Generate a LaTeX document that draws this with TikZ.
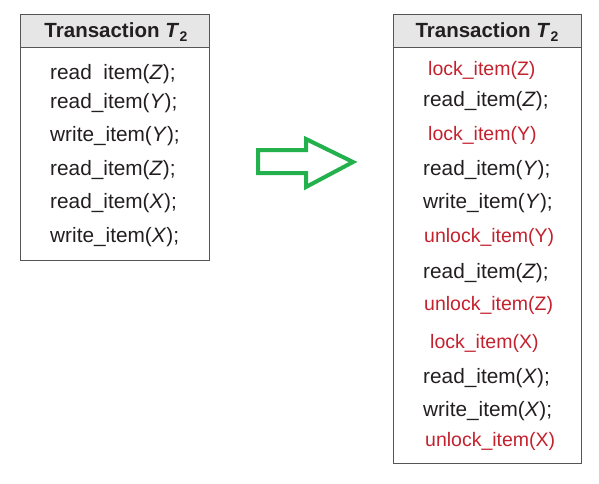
\documentclass[tikz,border=0pt]{standalone}
\usepackage{fontspec}
\setmainfont{Liberation Sans}
\definecolor{txt}{HTML}{231F20}
\definecolor{lockred}{HTML}{C4212E}
\definecolor{hdr}{HTML}{E6E6E6}
\definecolor{frame}{HTML}{555555}
\definecolor{arrowgreen}{HTML}{22B14C}
\newcommand{\tsub}{\textit{T}\kern0.5pt\raisebox{-4.5pt}{\fontsize{14}{16}\selectfont 2}}
\begin{document}
\begin{tikzpicture}[x=1pt,y=-1pt,
  box/.style={draw=frame,line width=1pt},
  head/.style={draw=frame,line width=1pt,fill=hdr},
  title/.style={anchor=base,inner sep=0pt,text=txt,font=\fontsize{20.5}{24}\selectfont\bfseries},
  op/.style={anchor=base west,inner sep=0pt,text=txt,font=\fontsize{20.8}{24}\selectfont},
  lk/.style={anchor=base west,inner sep=0pt,text=lockred,font=\fontsize{19.5}{23}\selectfont},
  bigarrow/.style={draw=arrowgreen,line width=4pt,line join=miter}]
\useasboundingbox (0,0) rectangle (599,483);
% left box
\fill[white] (20,14) rectangle (209,260);
\draw[head] (20,14) rectangle (209,47);
\draw[box] (20,14) rectangle (209,260);
\node[title] (lt) at (116,37) {Transaction \tsub};
\node[op] (l1) at (50,79) {read\phantom{\_}item(\textit{Z});};
\node[op] (l2) at (50,108) {read\_item(\textit{Y});};
\node[op] (l3) at (50,141) {write\_item(\textit{Y});};
\node[op] (l4) at (50,175) {read\_item(\textit{Z});};
\node[op] (l5) at (50,208) {read\_item(\textit{X});};
\node[op] (l6) at (50,242) {write\_item(\textit{X});};
% arrow
\draw[bigarrow] (258,150) -- (306,150) -- (306,139) -- (353,162) -- (306,187) -- (306,173) -- (258,173) -- cycle;
% right box
\draw[head] (393,14) rectangle (581,47);
\draw[box] (393,14) rectangle (581,463);
\node[title] (rt) at (487,37) {Transaction \tsub};
\node[lk] (r1) at (428,75) {lock\_item(Z)};
\node[op] (r2) at (423,106) {read\_item(\textit{Z});};
\node[lk] (r3) at (428,140) {lock\_item(Y)};
\node[op] (r4) at (423,175) {read\_item(\textit{Y});};
\node[op] (r5) at (423,208) {write\_item(\textit{Y});};
\node[lk] (r6) at (424,242) {unlock\_item(Y)};
\node[op] (r7) at (423,278) {read\_item(\textit{Z});};
\node[lk] (r8) at (424,310) {unlock\_item(Z)};
\node[lk] (r9) at (430,348) {lock\_item(X)};
\node[op] (r10) at (423,383) {read\_item(\textit{X});};
\node[op] (r11) at (423,416) {write\_item(\textit{X});};
\node[lk] (r12) at (425,446) {unlock\_item(X)};
\end{tikzpicture}
\end{document}
